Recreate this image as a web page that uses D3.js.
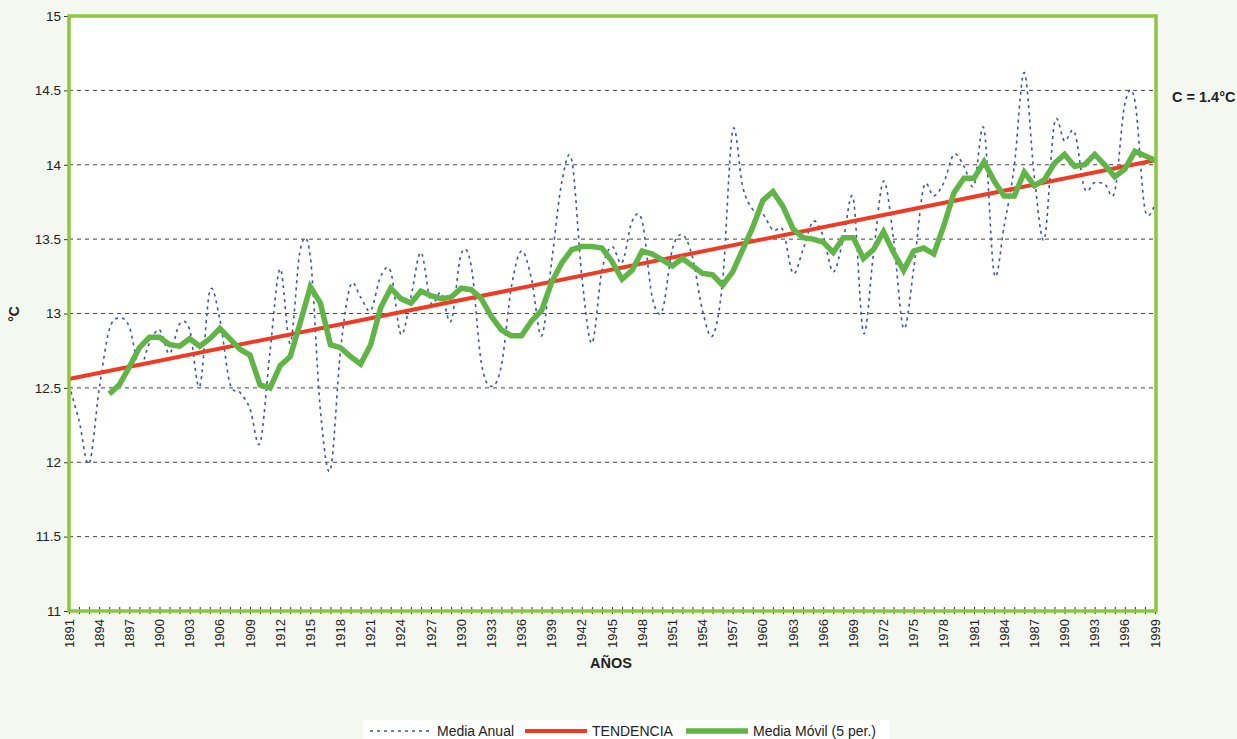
<!DOCTYPE html>
<html>
<head>
<meta charset="utf-8">
<script src="https://cdn.jsdelivr.net/npm/d3@7"></script>
<style>
  body { margin: 0; background: #f5f8f1; }
  svg { display: block; font-family: "Liberation Sans", Arial, sans-serif; }
</style>
</head>
<body>
<svg id="chart" width="1237" height="739"></svg>
<script>
// years on the category axis
const years = d3.range(1891, 2000)

// Media Anual (°C), one per year 1891..1999
const mediaAnual = [
  12.52, 12.28, 11.99, 12.49, 12.89, 12.97, 12.91, 12.64, 12.80, 12.89,
  12.73, 12.93, 12.89, 12.51, 13.15, 12.96, 12.53, 12.47, 12.36, 12.13,
  12.75, 13.30, 12.80, 13.43, 13.38, 12.35, 11.95, 12.75, 13.19, 13.11,
  13.02, 13.25, 13.28, 12.86, 13.11, 13.41, 13.07, 13.14, 12.95, 13.40,
  13.32, 12.67, 12.51, 12.65, 13.18, 13.42, 13.23, 12.85, 13.35, 13.88,
  14.03, 13.25, 12.80, 13.29, 13.45, 13.34, 13.62, 13.62, 13.11, 13.02,
  13.43, 13.53, 13.38, 13.02, 12.85, 13.22, 14.23, 13.85, 13.70, 13.67,
  13.56, 13.56, 13.27, 13.43, 13.62, 13.52, 13.28, 13.50, 13.77, 12.87,
  13.40, 13.89, 13.50, 12.90, 13.30, 13.85, 13.79, 13.88, 14.07, 13.99,
  13.86, 14.24, 13.27, 13.59, 13.99, 14.62, 13.92, 13.50, 14.28, 14.16,
  14.22, 13.84, 13.88, 13.87, 13.82, 14.41, 14.43, 13.70, 13.74
]

// Media Móvil (5 per.), 1895..1999
const mediaMovilStart = 1895
const mediaMovil = [
  12.46, 12.52, 12.64, 12.77, 12.84, 12.84, 12.79, 12.78, 12.83, 12.78,
  12.83, 12.90, 12.83, 12.76, 12.72, 12.52, 12.50, 12.65, 12.71, 12.94,
  13.18, 13.07, 12.79, 12.77, 12.71, 12.66, 12.79, 13.04, 13.17, 13.10,
  13.07, 13.15, 13.12, 13.10, 13.11, 13.17, 13.16, 13.10, 12.98, 12.89,
  12.85, 12.85, 12.95, 13.02, 13.21, 13.34, 13.43, 13.45, 13.45, 13.44,
  13.35, 13.23, 13.29, 13.42, 13.40, 13.36, 13.32, 13.37, 13.32, 13.27,
  13.26, 13.19, 13.28, 13.43, 13.58, 13.76, 13.82, 13.72, 13.57, 13.51,
  13.50, 13.48, 13.41, 13.51, 13.51, 13.37, 13.43, 13.55, 13.41, 13.29,
  13.42, 13.44, 13.40, 13.59, 13.81, 13.91, 13.91, 14.02, 13.89, 13.79,
  13.79, 13.95, 13.86, 13.90, 14.01, 14.07, 13.99, 14.00, 14.07, 14.00,
  13.92, 13.97, 14.09, 14.06, 14.03
]

// TENDENCIA (linear), end points
const tendenciaYears = [1891, 1999]
const tendencia = [12.56, 14.03]

const yTicks = [11, 11.5, 12, 12.5, 13, 13.5, 14, 14.5, 15]
const xLabelYears = years.filter(y => (y - 1891) % 3 === 0)

const plot = { left: 69, right: 1155, top: 16, bottom: 611 }

const svg = d3.select('#chart')

const x = d3.scalePoint()
  .domain(years)
  .range([plot.left, plot.right])

const y = d3.scaleLinear()
  .domain([11, 15])
  .range([plot.bottom, plot.top])

// plot area
svg.append('rect')
  .attr('x', plot.left).attr('y', plot.top)
  .attr('width', plot.right - plot.left).attr('height', plot.bottom - plot.top)
  .attr('fill', '#ffffff')

// grid
svg.append('g')
  .selectAll('line')
  .data(yTicks.filter(d => d > 11 && d < 15))
  .enter()
  .append('line')
  .attr('x1', plot.left).attr('x2', plot.right)
  .attr('y1', d => y(d)).attr('y2', d => y(d))
  .attr('stroke', '#444')
  .attr('stroke-width', 1)
  .attr('stroke-dasharray', '4,4')

// y axis
const yAxis = svg.append('g')
  .attr('transform', `translate(${plot.left},0)`)
  .call(d3.axisLeft(y).tickValues(yTicks).tickSize(5).tickPadding(3).tickFormat(d3.format('')))
yAxis.select('.domain').remove()
yAxis.selectAll('line').attr('stroke', '#333')
yAxis.selectAll('text').attr('font-size', 13.5).attr('fill', '#222')

// x axis: a tick every year, a label every 3 years
const xAxis = svg.append('g')
  .attr('transform', `translate(0,${plot.bottom})`)
  .call(d3.axisBottom(x).tickSize(4).tickFormat(''))
xAxis.select('.domain').remove()
xAxis.selectAll('line').attr('stroke', '#333').attr('y1', -4).attr('y2', 3)

svg.append('g')
  .selectAll('text')
  .data(xLabelYears)
  .enter()
  .append('text')
  .attr('transform', d => `translate(${x(d) + 4.5},619) rotate(-90)`)
  .attr('text-anchor', 'end')
  .attr('font-size', 13)
  .attr('fill', '#222')
  .text(d => d)

// lines
const anualLine = d3.line()
  .x((d, i) => x(years[i]))
  .y(d => y(d))
  .curve(d3.curveCardinal.tension(0))

svg.append('path')
  .datum(mediaAnual)
  .attr('d', anualLine)
  .attr('fill', 'none')
  .attr('stroke', '#3a56ad')
  .attr('stroke-width', 1.6)
  .attr('stroke-dasharray', '3,4')

svg.append('path')
  .datum(tendencia)
  .attr('d', d3.line().x((d, i) => x(tendenciaYears[i])).y(d => y(d)))
  .attr('fill', 'none')
  .attr('stroke', '#ef3b24')
  .attr('stroke-width', 4)

svg.append('path')
  .datum(mediaMovil)
  .attr('d', d3.line().x((d, i) => x(mediaMovilStart + i)).y(d => y(d)))
  .attr('fill', 'none')
  .attr('stroke', '#61b546')
  .attr('stroke-width', 5.5)
  .attr('stroke-linejoin', 'miter')

// plot border
svg.append('rect')
  .attr('x', plot.left).attr('y', plot.top)
  .attr('width', plot.right - plot.left + 1).attr('height', plot.bottom - plot.top)
  .attr('fill', 'none')
  .attr('stroke', '#8dc63f')
  .attr('stroke-width', 3.5)

// titles
svg.append('text')
  .attr('transform', 'translate(19,314) rotate(-90)')
  .attr('text-anchor', 'middle')
  .attr('font-size', 14).attr('font-weight', 'bold').attr('fill', '#222')
  .text('°C')

svg.append('text')
  .attr('x', 611).attr('y', 668)
  .attr('text-anchor', 'middle')
  .attr('font-size', 14.5).attr('font-weight', 'bold').attr('fill', '#222')
  .text('AÑOS')

svg.append('text')
  .attr('x', 1172).attr('y', 102)
  .attr('font-size', 14.5).attr('font-weight', 'bold').attr('fill', '#222')
  .text('C = 1.4°C')

// legend
const legend = svg.append('g')
legend.append('rect')
  .attr('x', 363).attr('y', 720).attr('width', 526).attr('height', 30)
  .attr('fill', '#ffffff')

const items = [
  { label: 'Media Anual', x: 370, color: '#3a56ad', w: 1.6, dash: '3,4' },
  { label: 'TENDENCIA', x: 525, color: '#ef3b24', w: 4, dash: null },
  { label: 'Media Móvil (5 per.)', x: 686, color: '#61b546', w: 5.5, dash: null }
]

items.forEach(it => {
  legend.append('line')
    .attr('x1', it.x).attr('x2', it.x + 62)
    .attr('y1', 731).attr('y2', 731)
    .attr('stroke', it.color)
    .attr('stroke-width', it.w)
    .attr('stroke-dasharray', it.dash)
  legend.append('text')
    .attr('x', it.x + 67).attr('y', 736)
    .attr('font-size', 14).attr('fill', '#222')
    .text(it.label)
})
</script>
</body>
</html>
